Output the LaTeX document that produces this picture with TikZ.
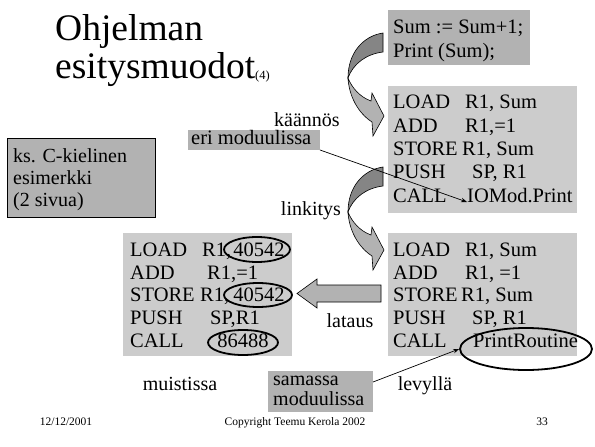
\documentclass[tikz,border=0pt]{standalone}
\usepackage{fontspec}
\setmainfont{Liberation Serif}
\usetikzlibrary{shapes.geometric,arrows.meta,calc}
\definecolor{boxdark}{HTML}{B2B2B2}
\definecolor{boxlight}{HTML}{CCCCCC}
\definecolor{ribbondark}{HTML}{858585}
\definecolor{ribbonlight}{HTML}{B2B2B2}

\begin{document}
\begin{tikzpicture}[x=1pt,y=-1pt,
  panel/.style={anchor=north west, inner sep=0pt, outer sep=0pt},
  code/.style={anchor=base west, inner sep=0pt, font=\fontsize{20.5}{24}\selectfont},
  num/.style={anchor=base, inner sep=0pt, font=\fontsize{20.5}{24}\selectfont},
  lbl/.style={anchor=base, inner sep=0pt, font=\fontsize{20}{22}\selectfont},
  foot/.style={anchor=base, inner sep=0pt, font=\fontsize{11.5}{13}\selectfont},
  ring/.style={ellipse, draw=black, line width=1.8pt, inner sep=0pt},
  pointer/.style={draw=black, line width=0.7pt, -{Stealth[length=6pt,width=4.5pt]}},
  bendarrow/.pic={
    % darker back face of the twisted ribbon
    \filldraw[fill=ribbondark, draw=black, line width=0.6pt]
      (35,-45) .. controls (15,-42) and (0,-25) .. (0,0)
      .. controls (5,-14) and (18,-24) .. (35,-26) -- cycle;
    % lighter front face ending in the head
    \filldraw[fill=ribbonlight, draw=black, line width=0.6pt]
      (0,0) .. controls (1,18) and (10,35) .. (24,44)
      -- (25,58) -- (36,38) -- (24,15) -- (23,23)
      .. controls (12,19) and (4,10) .. (0,0) -- cycle;
  }]

\useasboundingbox (0,0) rectangle (595,447);

% title
\node[anchor=base west, inner sep=0pt, font=\fontsize{37.5}{40}\selectfont] (t1) at (55,40) {Ohjelman};
\node[anchor=base west, inner sep=0pt, font=\fontsize{37.5}{40}\selectfont] (t2) at (55,78) {esitysmuodot};
\node[anchor=base west, inner sep=0pt, font=\fontsize{12.5}{14}\selectfont] (t3) at (255,79) {(4)};

% panels
\node[panel, fill=boxdark, minimum width=142pt, minimum height=55pt] (src) at (388,10) {};
\node[panel, fill=boxlight, minimum width=189pt, minimum height=127pt] (obj) at (388,86) {};
\node[panel, fill=boxdark, draw=black, line width=0.8pt, minimum width=148pt, minimum height=79pt] (ks) at (7,138) {};
\node[panel, fill=boxdark, minimum width=132pt, minimum height=20pt] (eri) at (188,130) {};
\node[panel, fill=boxlight, minimum width=169pt, minimum height=123pt] (mem) at (123,233) {};
\node[panel, fill=boxlight, minimum width=189pt, minimum height=123pt] (disk) at (388,233) {};
\node[panel, fill=boxdark, minimum width=105pt, minimum height=41pt] (sam) at (268,371) {};

% source program
\node[code] (s1) at (393,33.5) {Sum := Sum+1;};
\node[code] (s2) at (393,57) {Print (Sum);};

% compiled module
\node[code] (o1) at (393,108.5) {LOAD};   \node[code] (o1b) at (465,108.5) {R1, Sum};
\node[code] (o2) at (393,132)   {ADD};    \node[code] (o2b) at (465,132)   {R1,=1};
\node[code] (o3) at (393,155.3) {STORE};  \node[code] (o3b) at (462,155.3) {R1, Sum};
\node[code] (o4) at (393,178.7) {PUSH};   \node[code] (o4b) at (472,178.7) {SP, R1};
\node[code] (o5) at (393,202)   {CALL};   \node[code] (iomod) at (467,202) {IOMod.Print};

% linked program on disk
\node[code] (d1) at (393,256.5) {LOAD};   \node[code] (d1b) at (465,256.5) {R1, Sum};
\node[code] (d2) at (393,279.2) {ADD};    \node[code] (d2b) at (465,279.2) {R1, =1};
\node[code] (d3) at (393,301.9) {STORE};  \node[code] (d3b) at (461,301.9) {R1, Sum};
\node[code] (d4) at (393,324.6) {PUSH};   \node[code] (d4b) at (472,324.6) {SP, R1};
\node[code] (d5) at (393,347.3) {CALL};   \node[code] (d5b) at (473,347.3) {PrintRoutine};

% loaded program in memory
\node[code] (m1) at (130,256.5) {LOAD};   \node[code] (m1b) at (202,256.5) {R1,};
\node[num]  (m1n) at (259,256.5) {40542};
\node[code] (m2) at (130,279.2) {ADD};    \node[code] (m2b) at (207,279.2) {R1,=1};
\node[code] (m3) at (130,301.9) {STORE};  \node[code] (m3b) at (200,301.9) {R1,};
\node[num]  (m3n) at (259,301.9) {40542};
\node[code] (m4) at (130,324.6) {PUSH};   \node[code] (m4b) at (210,324.6) {SP,R1};
\node[code] (m5) at (130,347.3) {CALL};
\node[num]  (m5n) at (243,347.3) {86488};

% side notes
\node[anchor=base west, inner sep=0pt, font=\fontsize{20}{22}\selectfont] (ks1) at (13,162) {ks. C-kielinen};
\node[anchor=base west, inner sep=0pt, font=\fontsize{20}{22}\selectfont] (ks2) at (13,184) {esimerkki};
\node[anchor=base west, inner sep=0pt, font=\fontsize{20}{22}\selectfont] (ks3) at (13,206) {(2 sivua)};
\node[anchor=base west, inner sep=0pt, font=\fontsize{20.5}{24}\selectfont] (erit) at (191,144) {eri moduulissa};
\node[anchor=base west, inner sep=0pt, font=\fontsize{20}{20}\selectfont] (sam1) at (273,385) {samassa};
\node[anchor=base west, inner sep=0pt, font=\fontsize{20}{20}\selectfont] (sam2) at (273,405) {moduulissa};

% step labels
\node[lbl] (kaan) at (307,126) {käännös};
\node[lbl] (link) at (311,215) {linkitys};
\node[lbl] (lat) at (350,327) {lataus};
\node[lbl] (muis) at (180,390) {muistissa};
\node[lbl] (lev) at (425,390) {levyllä};

% resolved addresses
\node[ring, minimum width=66pt, minimum height=25pt] (r1) at (257,249.5) {};
\node[ring, minimum width=68pt, minimum height=24pt] (r2) at (258,295) {};
\node[ring, minimum width=70pt, minimum height=25pt] (r3) at (243,342.5) {};
\node[ring, minimum width=132pt, minimum height=42pt] (pr) at (526,349) {};

% translation steps
\pic at (348,78) {bendarrow};
\pic at (348,212) {bendarrow};
\filldraw[fill=ribbonlight, draw=black, line width=0.6pt]
  (381,285) -- (317,285) -- (317,279) -- (297,293.5) -- (317,308) -- (317,302) -- (381,302) -- cycle;

% references
\draw[pointer] (eri.south east) -- (iomod.base west);
\draw[pointer] ($(sam.north east)+(0,11)$) -- (pr.west);

% footer
\node[foot] (f1) at (66,425) {12/12/2001};
\node[foot] (f2) at (295,425) {Copyright Teemu Kerola 2002};
\node[foot] (f3) at (542,425) {33};
\end{tikzpicture}
\end{document}
